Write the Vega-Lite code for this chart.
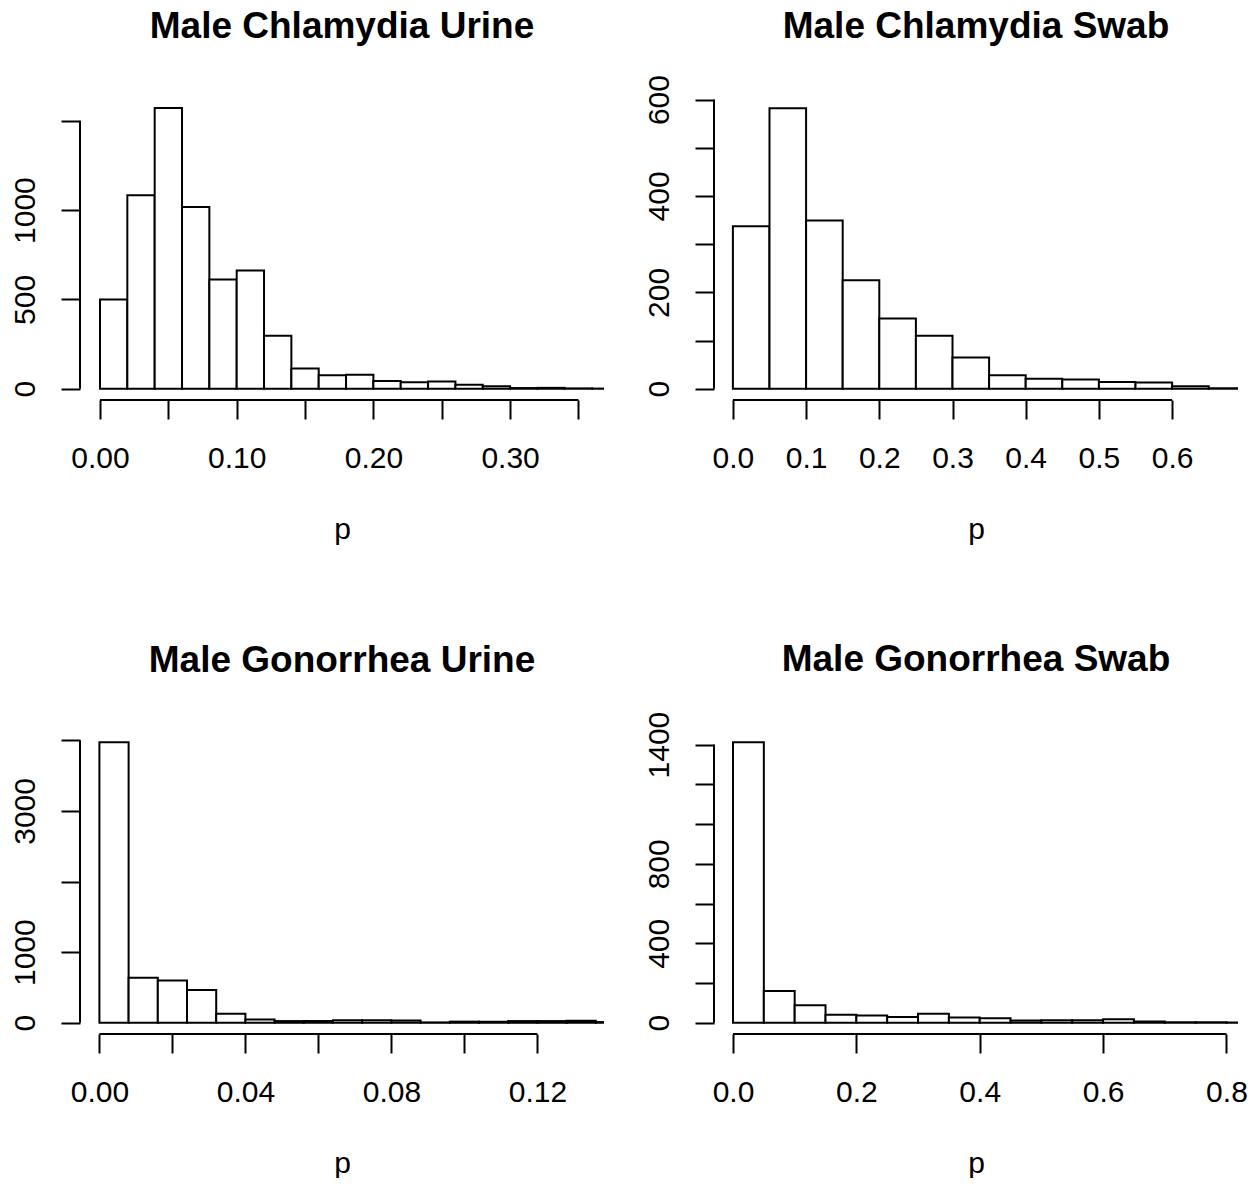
{
  "$schema": "https://vega.github.io/schema/vega-lite/v6.json",
  "background": "white",
  "padding": {"left": 10, "top": 7, "right": 0, "bottom": 0},
  "datasets": {
    "chlamydia_urine": [
      {"lo": 0.00, "hi": 0.02, "n": 500},
      {"lo": 0.02, "hi": 0.04, "n": 1083},
      {"lo": 0.04, "hi": 0.06, "n": 1572},
      {"lo": 0.06, "hi": 0.08, "n": 1017},
      {"lo": 0.08, "hi": 0.10, "n": 612},
      {"lo": 0.10, "hi": 0.12, "n": 662},
      {"lo": 0.12, "hi": 0.14, "n": 296},
      {"lo": 0.14, "hi": 0.16, "n": 113},
      {"lo": 0.16, "hi": 0.18, "n": 75},
      {"lo": 0.18, "hi": 0.20, "n": 79},
      {"lo": 0.20, "hi": 0.22, "n": 44},
      {"lo": 0.22, "hi": 0.24, "n": 37},
      {"lo": 0.24, "hi": 0.26, "n": 40},
      {"lo": 0.26, "hi": 0.28, "n": 22},
      {"lo": 0.28, "hi": 0.30, "n": 14},
      {"lo": 0.30, "hi": 0.32, "n": 4},
      {"lo": 0.32, "hi": 0.34, "n": 5},
      {"lo": 0.34, "hi": 0.36, "n": 2},
      {"lo": 0.36, "hi": 0.38, "n": 1}
    ],
    "chlamydia_swab": [
      {"lo": 0.00, "hi": 0.05, "n": 337},
      {"lo": 0.05, "hi": 0.10, "n": 582},
      {"lo": 0.10, "hi": 0.15, "n": 349},
      {"lo": 0.15, "hi": 0.20, "n": 225},
      {"lo": 0.20, "hi": 0.25, "n": 146},
      {"lo": 0.25, "hi": 0.30, "n": 110},
      {"lo": 0.30, "hi": 0.35, "n": 65},
      {"lo": 0.35, "hi": 0.40, "n": 28},
      {"lo": 0.40, "hi": 0.45, "n": 21},
      {"lo": 0.45, "hi": 0.50, "n": 19},
      {"lo": 0.50, "hi": 0.55, "n": 14},
      {"lo": 0.55, "hi": 0.60, "n": 13},
      {"lo": 0.60, "hi": 0.65, "n": 5},
      {"lo": 0.65, "hi": 0.70, "n": 1}
    ],
    "gonorrhea_urine": [
      {"lo": 0.000, "hi": 0.008, "n": 3973},
      {"lo": 0.008, "hi": 0.016, "n": 638},
      {"lo": 0.016, "hi": 0.024, "n": 600},
      {"lo": 0.024, "hi": 0.032, "n": 464},
      {"lo": 0.032, "hi": 0.040, "n": 128},
      {"lo": 0.040, "hi": 0.048, "n": 45},
      {"lo": 0.048, "hi": 0.056, "n": 24},
      {"lo": 0.056, "hi": 0.064, "n": 24},
      {"lo": 0.064, "hi": 0.072, "n": 36},
      {"lo": 0.072, "hi": 0.080, "n": 36},
      {"lo": 0.080, "hi": 0.088, "n": 33},
      {"lo": 0.088, "hi": 0.096, "n": 5},
      {"lo": 0.096, "hi": 0.104, "n": 16},
      {"lo": 0.104, "hi": 0.112, "n": 16},
      {"lo": 0.112, "hi": 0.120, "n": 24},
      {"lo": 0.120, "hi": 0.128, "n": 24},
      {"lo": 0.128, "hi": 0.136, "n": 30},
      {"lo": 0.136, "hi": 0.144, "n": 10}
    ],
    "gonorrhea_swab": [
      {"lo": 0.00, "hi": 0.05, "n": 1412},
      {"lo": 0.05, "hi": 0.10, "n": 160},
      {"lo": 0.10, "hi": 0.15, "n": 88},
      {"lo": 0.15, "hi": 0.20, "n": 41},
      {"lo": 0.20, "hi": 0.25, "n": 36},
      {"lo": 0.25, "hi": 0.30, "n": 29},
      {"lo": 0.30, "hi": 0.35, "n": 45},
      {"lo": 0.35, "hi": 0.40, "n": 26},
      {"lo": 0.40, "hi": 0.45, "n": 23},
      {"lo": 0.45, "hi": 0.50, "n": 11},
      {"lo": 0.50, "hi": 0.55, "n": 13},
      {"lo": 0.55, "hi": 0.60, "n": 13},
      {"lo": 0.60, "hi": 0.65, "n": 18},
      {"lo": 0.65, "hi": 0.70, "n": 6},
      {"lo": 0.70, "hi": 0.75, "n": 3},
      {"lo": 0.75, "hi": 0.80, "n": 3},
      {"lo": 0.80, "hi": 0.85, "n": 2}
    ]
  },
  "columns": 2,
  "bounds": "flush",
  "spacing": {"row": 331, "column": 110},
  "concat": [
    {
      "width": 524,
      "height": 303,
      "title": {"text": "Male Chlamydia Urine", "offset": 51},
      "layer": [
        {
          "data": {"name": "chlamydia_urine"},
          "mark": {"type": "rect", "fill": "white", "stroke": "black", "strokeWidth": 2, "clip": true},
          "encoding": {
            "x": {"field": "lo", "type": "quantitative", "title": "p",
              "scale": {"domain": [-0.01463, 0.3687], "nice": false, "zero": false},
              "axis": {"values": [0, 0.05, 0.1, 0.15, 0.2, 0.25, 0.3, 0.35],
                "labelExpr": "indexof([0, 0.1, 0.2, 0.3], datum.value) >= 0 ? format(datum.value, '.2f') : ''"}},
            "x2": {"field": "hi"},
            "y": {"field": "n", "type": "quantitative", "title": null,
              "scale": {"domain": [-63, 1633], "nice": false, "zero": false},
              "axis": {"values": [0, 500, 1000, 1500],
                "labelExpr": "indexof([0, 500, 1000], datum.value) >= 0 ? format(datum.value, 'd') : ''"}},
            "y2": {"datum": 0}
          }
        },
        {
          "data": {"values": [{}]},
          "mark": {"type": "rule", "stroke": "black", "strokeWidth": 2},
          "encoding": {"x": {"datum": 0, "title": "p"}, "x2": {"datum": 0.35}, "y": {"datum": -63, "title": null}}
        },
        {
          "data": {"values": [{}]},
          "mark": {"type": "rule", "stroke": "black", "strokeWidth": 2},
          "encoding": {"x": {"datum": -0.01463, "title": "p"}, "y": {"datum": 0, "title": null}, "y2": {"datum": 1500}}
        }
      ]
    },
    {
      "width": 524,
      "height": 303,
      "title": {"text": "Male Chlamydia Swab", "offset": 29},
      "layer": [
        {
          "data": {"name": "chlamydia_swab"},
          "mark": {"type": "rect", "fill": "white", "stroke": "black", "strokeWidth": 2, "clip": true},
          "encoding": {
            "x": {"field": "lo", "type": "quantitative", "title": "p",
              "scale": {"domain": [-0.0258, 0.69], "nice": false, "zero": false},
              "axis": {"values": [0, 0.1, 0.2, 0.3, 0.4, 0.5, 0.6], "format": ".1f"}},
            "x2": {"field": "hi"},
            "y": {"field": "n", "type": "quantitative", "title": null,
              "scale": {"domain": [-23.3, 605.3], "nice": false, "zero": false},
              "axis": {"values": [0, 100, 200, 300, 400, 500, 600],
                "labelExpr": "indexof([0, 200, 400, 600], datum.value) >= 0 ? format(datum.value, 'd') : ''"}},
            "y2": {"datum": 0}
          }
        },
        {
          "data": {"values": [{}]},
          "mark": {"type": "rule", "stroke": "black", "strokeWidth": 2},
          "encoding": {"x": {"datum": 0, "title": "p"}, "x2": {"datum": 0.6}, "y": {"datum": -23.3, "title": null}}
        },
        {
          "data": {"values": [{}]},
          "mark": {"type": "rule", "stroke": "black", "strokeWidth": 2},
          "encoding": {"x": {"datum": -0.0258, "title": "p"}, "y": {"datum": 0, "title": null}, "y2": {"datum": 600}}
        }
      ]
    },
    {
      "width": 524,
      "height": 303,
      "title": {"text": "Male Gonorrhea Urine", "offset": 51},
      "layer": [
        {
          "data": {"name": "gonorrhea_urine"},
          "mark": {"type": "rect", "fill": "white", "stroke": "black", "strokeWidth": 2, "clip": true},
          "encoding": {
            "x": {"field": "lo", "type": "quantitative", "title": "p",
              "scale": {"domain": [-0.00532, 0.13825], "nice": false, "zero": false},
              "axis": {"values": [0, 0.02, 0.04, 0.06, 0.08, 0.1, 0.12],
                "labelExpr": "indexof([0, 0.04, 0.08, 0.12], datum.value) >= 0 ? format(datum.value, '.2f') : ''"}},
            "x2": {"field": "hi"},
            "y": {"field": "n", "type": "quantitative", "title": null,
              "scale": {"domain": [-159, 4132], "nice": false, "zero": false},
              "axis": {"values": [0, 1000, 2000, 3000, 4000],
                "labelExpr": "indexof([0, 1000, 3000], datum.value) >= 0 ? format(datum.value, 'd') : ''"}},
            "y2": {"datum": 0}
          }
        },
        {
          "data": {"values": [{}]},
          "mark": {"type": "rule", "stroke": "black", "strokeWidth": 2},
          "encoding": {"x": {"datum": 0, "title": "p"}, "x2": {"datum": 0.12}, "y": {"datum": -159, "title": null}}
        },
        {
          "data": {"values": [{}]},
          "mark": {"type": "rule", "stroke": "black", "strokeWidth": 2},
          "encoding": {"x": {"datum": -0.00532, "title": "p"}, "y": {"datum": 0, "title": null}, "y2": {"datum": 4000}}
        }
      ]
    },
    {
      "width": 524,
      "height": 303,
      "title": {"text": "Male Gonorrhea Swab", "offset": 32},
      "layer": [
        {
          "data": {"name": "gonorrhea_swab"},
          "mark": {"type": "rect", "fill": "white", "stroke": "black", "strokeWidth": 2, "clip": true},
          "encoding": {
            "x": {"field": "lo", "type": "quantitative", "title": "p",
              "scale": {"domain": [-0.0308, 0.8187], "nice": false, "zero": false},
              "axis": {"values": [0, 0.2, 0.4, 0.6, 0.8], "format": ".1f"}},
            "x2": {"field": "hi"},
            "y": {"field": "n", "type": "quantitative", "title": null,
              "scale": {"domain": [-56.5, 1468.5], "nice": false, "zero": false},
              "axis": {"values": [0, 200, 400, 600, 800, 1000, 1200, 1400],
                "labelExpr": "indexof([0, 400, 800, 1400], datum.value) >= 0 ? format(datum.value, 'd') : ''"}},
            "y2": {"datum": 0}
          }
        },
        {
          "data": {"values": [{}]},
          "mark": {"type": "rule", "stroke": "black", "strokeWidth": 2},
          "encoding": {"x": {"datum": 0, "title": "p"}, "x2": {"datum": 0.8}, "y": {"datum": -56.5, "title": null}}
        },
        {
          "data": {"values": [{}]},
          "mark": {"type": "rule", "stroke": "black", "strokeWidth": 2},
          "encoding": {"x": {"datum": -0.0308, "title": "p"}, "y": {"datum": 0, "title": null}, "y2": {"datum": 1400}}
        }
      ]
    }
  ],
  "config": {
    "font": "Liberation Sans",
    "view": {"stroke": null},
    "axis": {
      "grid": false,
      "domain": false,
      "ticks": true,
      "tickColor": "black",
      "tickWidth": 2,
      "tickSize": 19,
      "labelColor": "black",
      "labelFont": "Liberation Sans",
      "labelFontSize": 30,
      "labelOverlap": false,
      "labelFlush": false,
      "titleFont": "Liberation Sans",
      "titleFontSize": 30,
      "titleFontWeight": "normal",
      "titleColor": "black"
    },
    "axisX": {
      "labelAngle": 0,
      "labelAlign": "center",
      "labelBaseline": "alphabetic",
      "labelPadding": 48,
      "titleBaseline": "alphabetic",
      "titlePadding": 65
    },
    "axisY": {
      "labelAngle": -90,
      "labelAlign": "center",
      "labelBaseline": "alphabetic",
      "labelPadding": 27
    },
    "title": {
      "font": "Liberation Sans",
      "fontSize": 37,
      "fontWeight": "bold",
      "color": "black",
      "frame": "group",
      "anchor": "middle",
      "baseline": "alphabetic"
    }
  }
}
